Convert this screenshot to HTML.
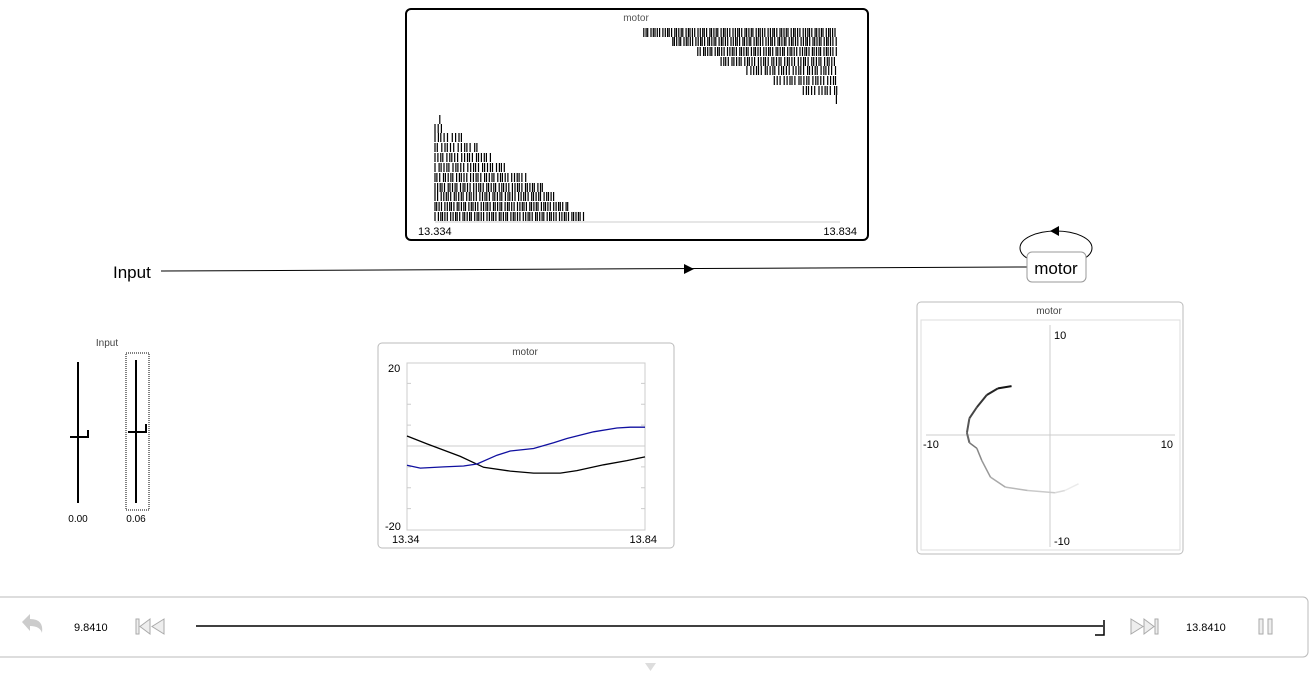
<!DOCTYPE html>
<html><head><meta charset="utf-8">
<style>
body{margin:0;width:1311px;height:679px;background:#fff;overflow:hidden;font-family:"Liberation Sans",Tahoma,sans-serif;}
svg{position:absolute;left:0;top:0}
text{font-family:"Liberation Sans",Tahoma,sans-serif}
</style></head><body>
<svg id="s" width="1311" height="679">
  <rect x="406" y="9" width="462" height="231" rx="5" fill="#fff" stroke="#000" stroke-width="2"/>
  <text x="636" y="21" font-size="10" fill="#555" text-anchor="middle">motor</text>
  <line x1="435" y1="222" x2="840" y2="222" stroke="#ccc"/>
  <text x="418" y="235" font-size="11">13.334</text>
  <text x="857" y="235" font-size="11" text-anchor="end">13.834</text>
  <g id="raster"></g>

  <text x="113" y="278" font-size="17">Input</text>
  <line x1="161" y1="271" x2="1027" y2="267" stroke="#000"/>
  <polygon points="684,264 694,269 684,274" fill="#000"/>
  <ellipse cx="1056" cy="248" rx="36" ry="17" fill="none" stroke="#000"/>
  <polygon points="1050,231 1059,226 1059,236" fill="#000"/>
  <rect x="1027" y="252" width="59" height="30" rx="5" fill="#fff" stroke="#999"/>
  <text x="1056" y="274" font-size="17" text-anchor="middle">motor</text>

  <text x="107" y="346" font-size="10" fill="#444" text-anchor="middle">Input</text>
  <line x1="78" y1="362" x2="78" y2="503" stroke="#000" stroke-width="2"/>
  <path d="M70,437 H88 V430" fill="none" stroke="#000" stroke-width="2"/>
  <text x="78" y="522" font-size="10" text-anchor="middle">0.00</text>
  <rect x="126" y="353" width="23" height="157" fill="none" stroke="#000" stroke-dasharray="1,1"/>
  <line x1="136" y1="360" x2="136" y2="503" stroke="#000" stroke-width="2"/>
  <path d="M128,432 H146 V424" fill="none" stroke="#000" stroke-width="2"/>
  <text x="136" y="522" font-size="10" text-anchor="middle">0.06</text>

  <rect x="378" y="343" width="296" height="205" rx="4" fill="#fff" stroke="#bbb"/>
  <text x="525" y="355" font-size="10" fill="#444" text-anchor="middle">motor</text>
  <rect x="407" y="363" width="238" height="167" fill="none" stroke="#ccc"/>
  <g id="vgrid"></g>
  <text x="388" y="372" font-size="11">20</text>
  <text x="385" y="530" font-size="11">-20</text>
  <text x="392" y="543" font-size="11">13.34</text>
  <text x="657" y="543" font-size="11" text-anchor="end">13.84</text>
  <g id="vlines"></g>

  <rect x="917" y="302" width="266" height="252" rx="4" fill="#fff" stroke="#bbb"/>
  <text x="1049" y="314" font-size="10" fill="#444" text-anchor="middle">motor</text>
  <rect x="921" y="320" width="259" height="230" fill="none" stroke="#ddd"/>
  <line x1="926" y1="435" x2="1175" y2="435" stroke="#ccc"/>
  <line x1="1050" y1="325" x2="1050" y2="547" stroke="#ccc"/>
  <text x="1054" y="339" font-size="11">10</text>
  <text x="1054" y="545" font-size="11">-10</text>
  <text x="923" y="448" font-size="11">-10</text>
  <text x="1173" y="448" font-size="11" text-anchor="end">10</text>
  <g id="xy"></g>

  <rect x="-5" y="597" width="1313" height="60" rx="5" fill="#fff" stroke="#bbb"/>
  <path d="M22,622 L30,614 L30,619 Q44,619 42,633 Q40,626 30,626 L30,631 Z" fill="#ccc"/>
  <text x="74" y="631" font-size="11">9.8410</text>
  <g fill="#eee" stroke="#aaa">
    <rect x="136" y="619" width="3" height="15"/><polygon points="150,619 140,626.5 150,634"/><polygon points="164,619 152,626.5 164,634"/>
  </g>
  <line x1="196" y1="626" x2="1103" y2="626" stroke="#000" stroke-width="1.5"/>
  <path d="M1095,635 H1104 V620" fill="none" stroke="#000" stroke-width="1.5"/>
  <g fill="#eee" stroke="#aaa">
    <polygon points="1131,619 1143,626.5 1131,634"/><polygon points="1144,619 1154,626.5 1144,634"/><rect x="1155" y="619" width="3" height="15"/>
  </g>
  <text x="1186" y="631" font-size="11">13.8410</text>
  <g fill="#eee" stroke="#aaa">
    <rect x="1259" y="619" width="4" height="15"/><rect x="1268" y="619" width="4" height="15"/>
  </g>
  <polygon points="645,663 656,663 650.5,671" fill="#ddd"/>
</svg>
<script>
// ---- Raster data (bottom 11 rows then top 8 rows) ----
const rasterStart=[13.340,13.334,13.334,13.334,13.334,13.334,13.334,13.334,13.334,13.334,13.334, 13.593,13.629,13.660,13.689,13.721,13.755,13.791,13.832];
const rasterEnd  =[13.340,13.345,13.370,13.387,13.403,13.423,13.448,13.469,13.485,13.500,13.519, 13.834,13.834,13.834,13.834,13.834,13.834,13.834,13.832];
const rasterIsi  =[0,0.004,0.0042,0.004,0.0036,0.0036,0.0034,0.0032,0.0032,0.003,0.003, 0.0029,0.0029,0.003,0.0033,0.0035,0.0036,0.0038,0];
const rowY=[119,128,137,147,157,167,177,187,196,206,216, 32,41,51,61,70,80,90,99];
const rT0=13.334,rT1=13.834;
const rx=t=>435+(t-rT0)/(rT1-rT0)*403;
const ns="http://www.w3.org/2000/svg";
const rg=document.getElementById('raster');
for(let i=0;i<rasterStart.length;i++){
  const y=rowY[i];
  let d='';
  if(rasterIsi[i]===0){d+=`M${rx(rasterEnd[i]).toFixed(1)},${y-4}v9`;}
  else{
    let k=0;
    for(let t=rasterStart[i];t<=rasterEnd[i]+1e-9;k++){
      d+=`M${rx(t).toFixed(1)},${y-4}v9`;
      t+=rasterIsi[i]*((k*7+i)%5===0?1.4:((k+i)%3===0?0.7:1));
    }
  }
  const p=document.createElementNS(ns,'path');
  p.setAttribute('d',d);p.setAttribute('stroke','#000');p.setAttribute('stroke-width','1.2');
  
  
  rg.appendChild(p);
}

// ---- Value plot data ----
const vTimesA=[13.34,13.382,13.452,13.501,13.557,13.606,13.662,13.697,13.753,13.802,13.84];
const vSeriesA=[2.4,0.5,-2.5,-5.1,-6.0,-6.5,-6.5,-5.9,-4.5,-3.5,-2.6];
const vTimesB=[13.34,13.368,13.417,13.459,13.487,13.529,13.557,13.606,13.648,13.676,13.732,13.781,13.809,13.84];
const vSeriesB=[-4.6,-5.3,-5.0,-4.8,-4.3,-2.2,-1.2,-0.6,0.8,1.8,3.4,4.3,4.5,4.5];
const vYTicks=[-15,-10,-5,0,5,10,15];
const vx=t=>407+(t-13.34)/0.5*238;
const vy=v=>446-v*167/40;
const vg=document.getElementById('vgrid');
vYTicks.forEach(v=>{
  const l=document.createElementNS(ns,'line');
  const z=v===0;
  l.setAttribute('x1',407);l.setAttribute('x2',z?645:411);
  l.setAttribute('y1',vy(v));l.setAttribute('y2',vy(v));l.setAttribute('stroke','#ccc');
  
  
  vg.appendChild(l);
  if(!z){const r=l.cloneNode();r.setAttribute('x1',641);r.setAttribute('x2',645);vg.appendChild(r);}
});
function poly(ts,vs,col,name){
  const p=document.createElementNS(ns,'polyline');
  p.setAttribute('points',ts.map((t,i)=>vx(t).toFixed(1)+','+vy(vs[i]).toFixed(1)).join(' '));
  p.setAttribute('fill','none');p.setAttribute('stroke',col);p.setAttribute('stroke-width','1.3');
  
  
  document.getElementById('vlines').appendChild(p);
}
poly(vTimesA,vSeriesA,'#000','series-dim-0');
poly(vTimesB,vSeriesB,'#1010a0','series-dim-1');

// ---- XY plot data ----
const xyX=[-3.1,-4.2,-5.1,-5.9,-6.5,-6.7,-6.5,-5.9,-5.5,-4.8,-3.6,-1.8,0.4,1.2,2.3];
const xyY=[4.4,4.2,3.6,2.5,1.5,0.2,-0.7,-1.2,-2.3,-3.8,-4.7,-5.0,-5.2,-5.0,-4.4];
const xx=v=>1050+v*12.4, xyy=v=>435-v*11.1;
const xg=document.getElementById('xy');
for(let i=0;i<xyX.length-1;i++){
  const l=document.createElementNS(ns,'line');
  l.setAttribute('x1',xx(xyX[i]));l.setAttribute('y1',xyy(xyY[i]));
  l.setAttribute('x2',xx(xyX[i+1]));l.setAttribute('y2',xyy(xyY[i+1]));
  const g=Math.round(20+i/(xyX.length-2)*215);
  l.setAttribute('stroke',`rgb(${g},${g},${g})`);l.setAttribute('stroke-width',i<6?2:1.5);
  
  
  xg.appendChild(l);
}
</script>
</body></html>
